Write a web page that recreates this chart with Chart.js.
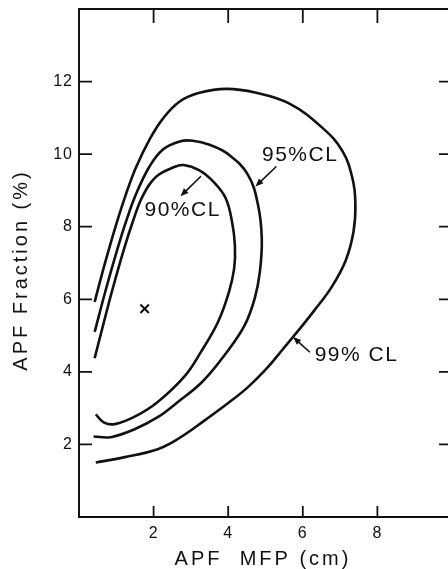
<!DOCTYPE html>
<html>
<head>
<meta charset="utf-8">
<script src="https://cdn.jsdelivr.net/npm/chart.js@4.4.0/dist/chart.umd.min.js"></script>
<style>
    html, body { margin: 0; padding: 0; background: #fff; overflow: hidden; }
    canvas { display: block; }
</style>
</head>
<body>
<canvas id="chart" width="460" height="569"></canvas>
<script>
// contour data (x = APF MFP in cm, y = APF fraction in %)
const cl99X = [0.42, 0.70, 0.99, 1.26, 1.53, 1.89, 2.25, 2.70, 3.23, 3.95, 4.72, 5.63, 6.52, 7.06, 7.33, 7.41, 7.36, 7.15, 6.78, 6.30, 5.85, 5.47, 5.02, 4.53, 4.00, 3.38, 2.65, 2.11, 1.23, 0.45];
const cl99Y = [5.93, 7.01, 8.04, 8.90, 9.64, 10.40, 10.98, 11.45, 11.69, 11.80, 11.70, 11.40, 10.73, 10.09, 9.34, 8.65, 7.87, 7.07, 6.35, 5.68, 5.10, 4.63, 4.08, 3.58, 3.14, 2.67, 2.15, 1.87, 1.65, 1.50];

const cl95X = [0.42, 0.72, 1.00, 1.26, 1.53, 1.89, 2.25, 2.70, 3.05, 3.50, 4.00, 4.53, 4.80, 4.90, 4.85, 4.71, 4.44, 3.91, 3.30, 2.65, 2.11, 1.49, 0.85, 0.39];
const cl95Y = [5.10, 6.27, 7.28, 8.14, 8.90, 9.66, 10.13, 10.35, 10.37, 10.26, 10.00, 9.43, 8.60, 7.68, 6.76, 6.02, 5.28, 4.47, 3.72, 3.17, 2.75, 2.42, 2.20, 2.22];

const cl90X = [0.42, 0.70, 0.90, 1.20, 1.44, 1.71, 2.07, 2.52, 2.80, 3.23, 3.62, 3.93, 4.10, 4.18, 4.16, 4.02, 3.73, 3.27, 2.84, 2.11, 1.52, 0.96, 0.66, 0.45];
const cl90Y = [4.38, 5.50, 6.28, 7.36, 8.13, 8.85, 9.38, 9.63, 9.70, 9.55, 9.22, 8.79, 8.15, 7.48, 6.85, 6.20, 5.38, 4.55, 3.89, 3.17, 2.78, 2.56, 2.61, 2.83];

const bestX = [1.76];
const bestY = [5.74];

const xTicks = [2, 4, 6, 8];
const yTicks = [2, 4, 6, 8, 10, 12];
const xTitle = 'APF  MFP (cm)';
const yTitle = 'APF Fraction (%)';
const clLabels = ['90%CL', '95%CL', '99% CL'];

// where each CL label sits, in data units: text centre, arrow tail, arrow head
const labelSpots = [
    { text: clLabels[0], at: [2.78, 8.45], from: [3.27, 9.39], to: [2.72, 8.84] },
    { text: clLabels[1], at: [5.93, 9.97], from: [5.29, 9.66], to: [4.73, 9.11] },
    { text: clLabels[2], at: [7.44, 4.47], from: [6.19, 4.54], to: [5.74, 4.96] }
];

function toPoints(xs, ys) {
    return xs.map((x, i) => ({ x: x, y: ys[i] }));
}

function curve(xs, ys) {
    return {
        data: toPoints(xs, ys),
        showLine: true,
        borderColor: '#111',
        borderWidth: 2.6,
        pointRadius: 0,
        tension: 0.4,
        fill: false
    };
}

const INK = '#111';

function arrow(ctx, x1, y1, x2, y2) {
    const ang = Math.atan2(y2 - y1, x2 - x1);
    const len = 8, wid = 3.2;
    ctx.beginPath();
    ctx.moveTo(x1, y1);
    ctx.lineTo(x2 - Math.cos(ang) * len * 0.7, y2 - Math.sin(ang) * len * 0.7);
    ctx.stroke();
    ctx.beginPath();
    ctx.moveTo(x2, y2);
    ctx.lineTo(x2 - Math.cos(ang) * len - Math.sin(ang) * wid, y2 - Math.sin(ang) * len + Math.cos(ang) * wid);
    ctx.lineTo(x2 - Math.cos(ang) * len + Math.sin(ang) * wid, y2 - Math.sin(ang) * len - Math.cos(ang) * wid);
    ctx.closePath();
    ctx.fill();
}

// frame with inward ticks, labels, titles and CL annotations
const framePlugin = {
    id: 'frame',
    afterDraw(chart) {
        const ctx = chart.ctx;
        const a = chart.chartArea;
        const xs = chart.scales.x, ys = chart.scales.y;
        ctx.save();
        ctx.strokeStyle = INK;
        ctx.fillStyle = INK;
        ctx.lineWidth = 2;
        ctx.strokeRect(a.left, a.top, a.right - a.left, a.bottom - a.top);

        ctx.lineWidth = 1.8;
        xTicks.forEach(v => {
            const px = xs.getPixelForValue(v);
            ctx.beginPath();
            ctx.moveTo(px, a.bottom); ctx.lineTo(px, a.bottom - 11);
            ctx.moveTo(px, a.top); ctx.lineTo(px, a.top + 14);
            ctx.stroke();
        });
        yTicks.forEach(v => {
            const py = ys.getPixelForValue(v);
            ctx.beginPath();
            ctx.moveTo(a.left, py); ctx.lineTo(a.left + 13, py);
            ctx.moveTo(a.right, py); ctx.lineTo(a.right - 13, py);
            ctx.stroke();
        });

        ctx.font = '16px "Liberation Sans", Arial, sans-serif';
        ctx.letterSpacing = '1px';
        ctx.textAlign = 'center';
        ctx.textBaseline = 'top';
        xTicks.forEach(v => ctx.fillText(String(v), xs.getPixelForValue(v), a.bottom + 9));
        ctx.textAlign = 'right';
        ctx.textBaseline = 'middle';
        yTicks.forEach(v => ctx.fillText(String(v), a.left - 6, ys.getPixelForValue(v)));

        ctx.font = '20px "Liberation Sans", Arial, sans-serif';
        ctx.letterSpacing = '3px';
        ctx.textAlign = 'center';
        ctx.textBaseline = 'middle';
        ctx.fillText(xTitle, 263, 559);
        ctx.save();
        ctx.translate(21, 270);
        ctx.rotate(-Math.PI / 2);
        ctx.fillText(yTitle, 0, 0);
        ctx.restore();

        ctx.font = '21px "Liberation Sans", Arial, sans-serif';
        ctx.letterSpacing = '1.5px';
        ctx.lineWidth = 1.6;
        labelSpots.forEach(s => {
            ctx.fillText(s.text, xs.getPixelForValue(s.at[0]), ys.getPixelForValue(s.at[1]));
            arrow(ctx,
                xs.getPixelForValue(s.from[0]), ys.getPixelForValue(s.from[1]),
                xs.getPixelForValue(s.to[0]), ys.getPixelForValue(s.to[1]));
        });
        ctx.restore();
    }
};

new Chart(document.getElementById('chart'), {
    type: 'scatter',
    data: {
        datasets: [
            curve(cl99X, cl99Y),
            curve(cl95X, cl95Y),
            curve(cl90X, cl90Y),
            {
                data: toPoints(bestX, bestY),
                pointStyle: 'crossRot',
                pointRadius: 6,
                borderColor: INK,
                borderWidth: 2,
                showLine: false
            }
        ]
    },
    options: {
        responsive: false,
        animation: false,
        devicePixelRatio: 1,
        layout: { padding: { left: 79, right: 8, top: 9, bottom: 52 } },
        plugins: { legend: { display: false }, tooltip: { enabled: false } },
        scales: {
            x: { type: 'linear', min: 0, max: 10, display: false },
            y: { type: 'linear', min: 0, max: 14, display: false }
        }
    },
    plugins: [framePlugin]
});
</script>
</body>
</html>
